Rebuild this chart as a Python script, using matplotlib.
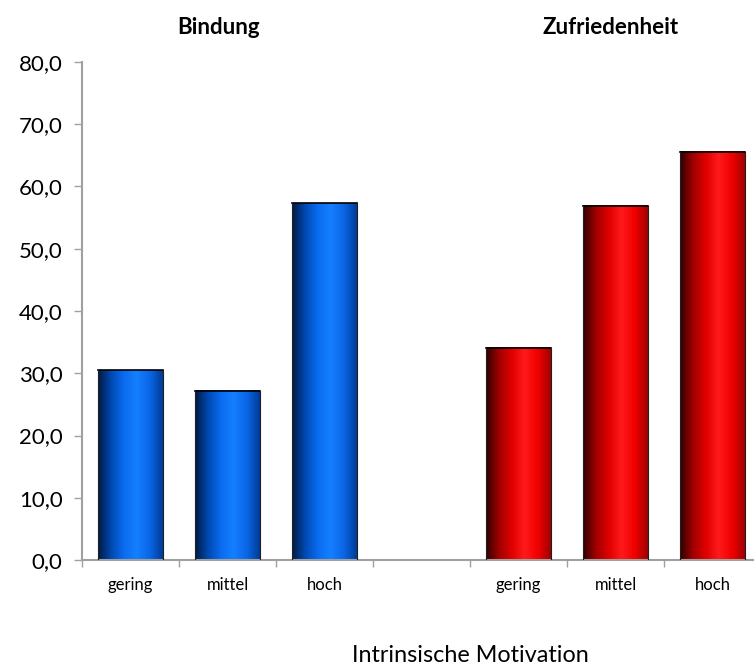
import numpy as np
import matplotlib.pyplot as plt
from matplotlib.colors import LinearSegmentedColormap

plt.rcParams['font.family'] = ['Lato', 'DejaVu Sans']

kategorien = ['gering', 'mittel', 'hoch', '', 'gering', 'mittel', 'hoch']
bindung = [30.5, 27.2, 57.3]
zufriedenheit = [34.1, 56.9, 65.6]
werte = bindung + [0] + zufriedenheit
farben = ['blau'] * 3 + [None] + ['rot'] * 3

cmaps = {
    'blau': LinearSegmentedColormap.from_list('b', ['#001a40', '#0048b0', '#0a6cf0', '#1480ff', '#0a66e6', '#003c96']),
    'rot': LinearSegmentedColormap.from_list('r', ['#300000', '#a00000', '#e00000', '#ff1a1a', '#f00000', '#a00000']),
}

fig = plt.figure(figsize=(7.54, 6.69), dpi=100)
ax = fig.add_axes([82/754, (669-560)/669, (761-82)/754, (560-62)/669])

x = np.arange(len(kategorien))
bars = ax.bar(x, werte, width=0.66, facecolor='none', edgecolor='none', zorder=3)
grad = np.linspace(0, 1, 256).reshape(1, -1)
for b, f, v in zip(bars, farben, werte):
    if f is None or v == 0:
        continue
    x0, w, h = b.get_x(), b.get_width(), b.get_height()
    ax.imshow(grad, cmap=cmaps[f], extent=(x0, x0 + w, 0, h), aspect='auto', zorder=2)
    ax.plot([x0, x0 + w], [h, h], color='black', lw=1.2, zorder=4)
    ax.plot([x0, x0], [0, h], color='#202020', lw=0.8, zorder=4)
    ax.plot([x0 + w, x0 + w], [0, h], color='#202020', lw=0.8, zorder=4)

ax.set_xlim(-0.5, len(kategorien) - 0.5)
ax.set_ylim(0, 80)
ax.set_yticks(np.arange(0, 81, 10))
ax.set_yticklabels([f'{v:.1f}'.replace('.', ',') for v in np.arange(0, 81, 10)], fontsize=16)

ax.set_xticks(x)
ax.set_xticklabels(kategorien, fontsize=12)
ax.set_xticks(np.arange(-0.5, len(kategorien), 1), minor=True)
ax.tick_params(axis='x', which='major', length=0, pad=12)
ax.tick_params(axis='x', which='minor', length=5, color='#a0a0a0', width=1)
ax.tick_params(axis='y', length=6, color='#a0a0a0', width=1, pad=8)

for s in ['top', 'right']:
    ax.spines[s].set_visible(False)
for s in ['left', 'bottom']:
    ax.spines[s].set_color('#a0a0a0')
    ax.spines[s].set_linewidth(1.5)

fig.text(219/754, 1 - 28/669, 'Bindung', fontsize=16, fontweight='bold', ha='center', va='center')
fig.text(611/754, 1 - 28/669, 'Zufriedenheit', fontsize=16, fontweight='bold', ha='center', va='center')
fig.text(470/754, 1 - 655/669, 'Intrinsische Motivation', fontsize=16.8, ha='center', va='center')

fig.savefig('out.png', dpi=100)
